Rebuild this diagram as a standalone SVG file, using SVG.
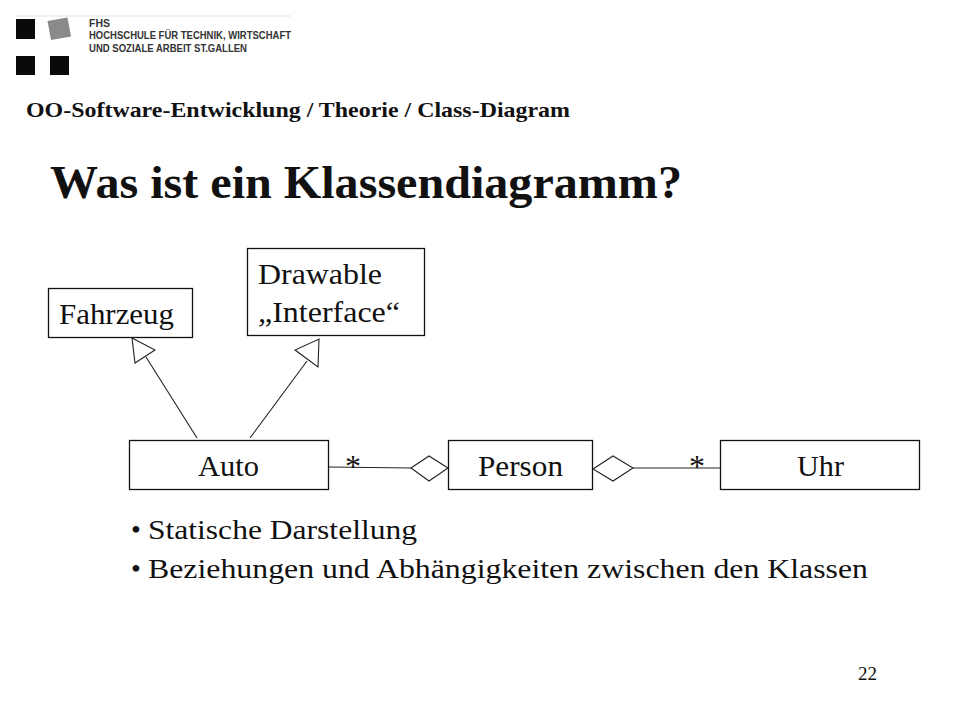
<svg xmlns="http://www.w3.org/2000/svg" width="960" height="720" viewBox="0 0 960 720">
<style>
text{font-family:"Liberation Serif","Times New Roman",serif;fill:#111}
.box{fill:#fff;stroke:#111;stroke-width:1.3}
.line{fill:none;stroke:#222;stroke-width:1.1}
.head{fill:#fff;stroke:#222;stroke-width:1.1}
.lab{font-size:30px}
.logo{font-family:"Liberation Sans",Arial,sans-serif;font-size:10.500px;font-weight:bold;fill:#333}
</style>
<rect width="960" height="720" fill="#fff"/>
<g id="logo">
<line x1="16" y1="16" x2="291" y2="16" stroke="#e4e4e4" stroke-width="1"/>
<rect x="16" y="19" width="19" height="20" fill="#0a0a0a"/>
<rect x="16" y="56" width="19" height="19" fill="#0a0a0a"/>
<rect x="50" y="56" width="19" height="19" fill="#0a0a0a"/>
<polygon points="47.500,21 67.500,17.500 71,36.500 51,40" fill="#8a8a8a"/>
<text class="logo" x="89" y="27">FHS</text>
<text class="logo" x="89" y="39" textLength="202" lengthAdjust="spacingAndGlyphs">HOCHSCHULE FÜR TECHNIK, WIRTSCHAFT</text>
<text class="logo" x="89" y="51.500" textLength="158" lengthAdjust="spacingAndGlyphs">UND SOZIALE ARBEIT ST.GALLEN</text>
</g>
<text x="26" y="117" font-size="21.500" font-weight="bold" textLength="544" lengthAdjust="spacingAndGlyphs">OO-Software-Entwicklung / Theorie / Class-Diagram</text>
<text x="50" y="198" font-size="46" font-weight="bold" textLength="632" lengthAdjust="spacingAndGlyphs">Was ist ein Klassendiagramm?</text>
<g id="connectors">
<line class="line" x1="197" y1="438" x2="146" y2="357"/>
<polygon class="head" points="132,338 155,350 135,363"/>
<line class="line" x1="250" y1="438" x2="307" y2="361"/>
<polygon class="head" points="319,339 318,367 295,350"/>
<line class="line" x1="329" y1="467" x2="411" y2="468"/>
<polygon class="head" points="411,468 429,456 448,468 429,481"/>
<line class="line" x1="633" y1="468" x2="720" y2="468"/>
<polygon class="head" points="593,469 613,456 633,468 613,481"/>
</g>
<g id="fahrzeug"><rect class="box" x="48.500" y="288.500" width="144" height="49"/><text class="lab" x="59" y="323.500" textLength="115" lengthAdjust="spacingAndGlyphs">Fahrzeug</text></g>
<g id="drawable"><rect class="box" x="247.500" y="248.500" width="177" height="87"/><text class="lab" x="258" y="284" textLength="124" lengthAdjust="spacingAndGlyphs">Drawable</text><text class="lab" x="258" y="321.500" textLength="142" lengthAdjust="spacingAndGlyphs">„Interface“</text></g>
<g id="auto"><rect class="box" x="129.500" y="440.500" width="199" height="49"/><text class="lab" x="198" y="475.500" textLength="61" lengthAdjust="spacingAndGlyphs">Auto</text></g>
<g id="person"><rect class="box" x="448.500" y="440.500" width="144" height="49"/><text class="lab" x="478" y="475.500" textLength="85" lengthAdjust="spacingAndGlyphs">Person</text></g>
<g id="uhr"><rect class="box" x="720.500" y="440.500" width="199" height="49"/><text class="lab" x="797" y="475.500" textLength="47" lengthAdjust="spacingAndGlyphs">Uhr</text></g>
<text class="lab" x="353" y="477" text-anchor="middle" style="font-size:32px">*</text>
<text class="lab" x="697" y="477" text-anchor="middle" style="font-size:32px">*</text>
<text class="lab" x="131" y="539" style="font-size:28px">•</text>
<text class="lab" x="148" y="539" textLength="269" lengthAdjust="spacingAndGlyphs" style="font-size:28px">Statische Darstellung</text>
<text class="lab" x="131" y="578" style="font-size:28px">•</text>
<text class="lab" x="148" y="578" textLength="720" lengthAdjust="spacingAndGlyphs" style="font-size:28px">Beziehungen und Abhängigkeiten zwischen den Klassen</text>
<text x="858" y="680" font-size="19">22</text>
</svg>
